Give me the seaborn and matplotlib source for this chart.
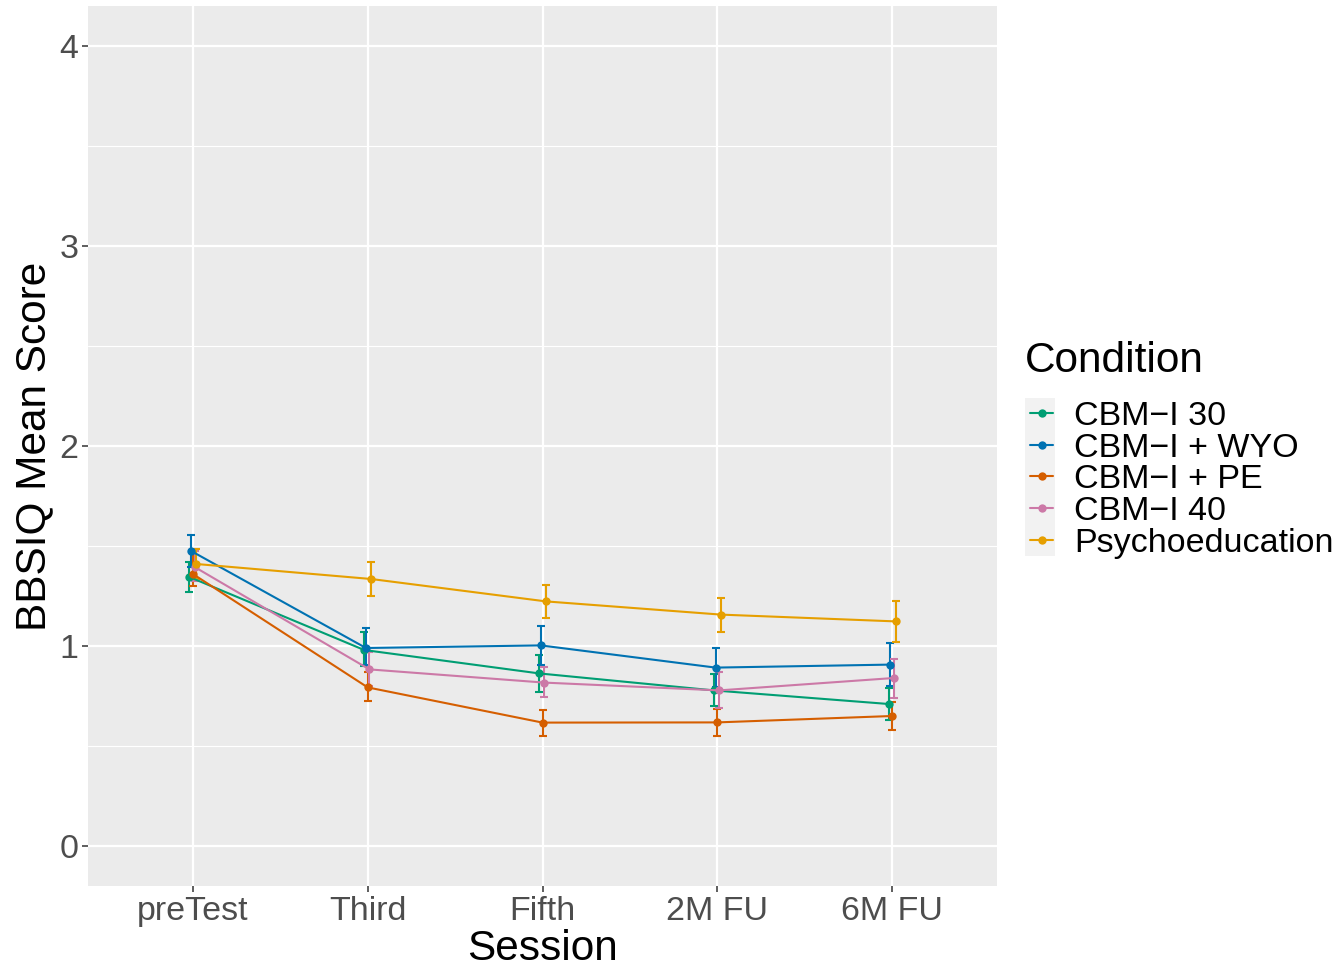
import numpy as np
import pandas as pd
import matplotlib
matplotlib.use("Agg")
import matplotlib.pyplot as plt
import seaborn as sns
from matplotlib.patches import Rectangle

sessions = ["preTest", "Third", "Fifth", "2M FU", "6M FU"]
conditions = ["CBM\u2212I 30", "CBM\u2212I + WYO", "CBM\u2212I + PE", "CBM\u2212I 40", "Psychoeducation"]
colors = ["#009E73", "#0072B2", "#D55E00", "#CC79A7", "#E69F00"]

cbm30_mean = [1.345, 0.98, 0.863, 0.778, 0.71]
cbm30_lo = [1.27, 0.90, 0.772, 0.70, 0.63]
cbm30_hi = [1.42, 1.07, 0.955, 0.86, 0.79]

wyo_mean = [1.475, 0.99, 1.003, 0.892, 0.907]
wyo_lo = [1.397, 0.905, 0.905, 0.793, 0.798]
wyo_hi = [1.557, 1.088, 1.10, 0.99, 1.017]

pe_mean = [1.36, 0.793, 0.617, 0.618, 0.65]
pe_lo = [1.30, 0.727, 0.552, 0.552, 0.578]
pe_hi = [1.46, 0.87, 0.682, 0.685, 0.718]

c40_mean = [1.395, 0.883, 0.817, 0.778, 0.84]
c40_lo = [1.327, 0.80, 0.743, 0.688, 0.742]
c40_hi = [1.477, 0.968, 0.893, 0.872, 0.937]

psy_mean = [1.41, 1.335, 1.223, 1.157, 1.123]
psy_lo = [1.335, 1.252, 1.142, 1.072, 1.022]
psy_hi = [1.485, 1.418, 1.305, 1.24, 1.223]

means = [cbm30_mean, wyo_mean, pe_mean, c40_mean, psy_mean]
los = [cbm30_lo, wyo_lo, pe_lo, c40_lo, psy_lo]
his = [cbm30_hi, wyo_hi, pe_hi, c40_hi, psy_hi]

dodge_width = 0.05
n = len(conditions)
rows = []
for gi, cond in enumerate(conditions):
    off = (gi - (n - 1) / 2) * dodge_width / n
    for si, s in enumerate(sessions):
        rows.append(dict(Condition=cond, Session=s, x=si + off,
                         mean=means[gi][si], lo=los[gi][si], hi=his[gi][si]))
df = pd.DataFrame(rows)

sns.set_theme(style="darkgrid")
plt.rcParams['font.family'] = ['Liberation Sans', 'DejaVu Sans']
plt.rcParams['text.color'] = 'black'

fig = plt.figure(figsize=(13.4, 9.69), dpi=100)
ax = fig.add_axes([88 / 1340, 1 - 886 / 969, (997 - 88) / 1340, (886 - 6) / 969])
ax.set_facecolor("#EBEBEB")

pal = dict(zip(conditions, colors))
sns.lineplot(data=df, x="x", y="mean", hue="Condition", hue_order=conditions,
             palette=pal, estimator=None, sort=False, marker="o", markersize=6,
             markeredgewidth=0, linewidth=1.5, ax=ax, legend=True, zorder=3)

for cond in conditions:
    d = df[df.Condition == cond]
    ax.errorbar(d.x, d["mean"], yerr=[d["mean"] - d.lo, d.hi - d["mean"]],
                fmt="none", ecolor=pal[cond], elinewidth=1.5, capsize=3,
                capthick=1.5, zorder=2)

ax.set_xlim(-0.6, 4.6)
ax.set_ylim(-0.2, 4.2)
ax.set_xticks(range(len(sessions)))
ax.set_xticklabels(sessions)
ax.set_yticks([0, 1, 2, 3, 4])
ax.set_yticks([0.5, 1.5, 2.5, 3.5], minor=True)
ax.grid(which="major", color="white", linewidth=1.6)
ax.grid(which="minor", axis="y", color="white", linewidth=0.8)
ax.set_axisbelow(True)
for sp in ax.spines.values():
    sp.set_visible(False)
ax.tick_params(axis="both", which="major", labelsize=24.5, labelcolor="#4D4D4D",
               color="#333333", length=4, width=1.1, pad=3, left=True, bottom=True)
ax.tick_params(axis="y", which="minor", length=0)
ax.set_xlabel("Session", fontsize=30.5, color="black", labelpad=2)
ax.set_ylabel("BBSIQ Mean Score", fontsize=30.5, color="black", labelpad=4)

fig.text(1025 / 1340, 1 - 361 / 969, "Condition", fontsize=30.5, color="black",
         ha="left", va="center")

handles, labels = ax.get_legend_handles_labels()
leg = ax.legend(handles, labels, loc="upper left",
                bbox_to_anchor=(1030 / 1340, 1 - 401 / 969), bbox_transform=fig.transFigure,
                frameon=False, fontsize=24.5,
                handlelength=0.68, handletextpad=0.62, labelspacing=0.02,
                borderaxespad=0, borderpad=0)
for t in leg.get_texts():
    t.set_color("black")
for h in leg.legend_handles:
    h.set_linewidth(1.5)
    h.set_markersize(6)

fig.add_artist(Rectangle((1025 / 1340, 1 - 556 / 969), 30 / 1340, 158 / 969,
                         transform=fig.transFigure, facecolor="#F2F2F2",
                         edgecolor="none", zorder=0))

fig.savefig("out.png", dpi=100)
